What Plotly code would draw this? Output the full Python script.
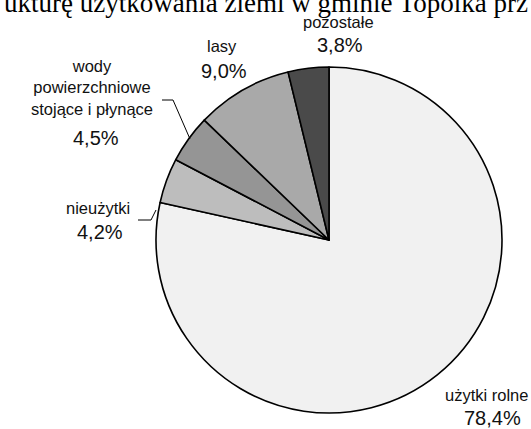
import plotly.graph_objects as go

W, H = 531, 429

categories = ["użytki rolne", "nieużytki", "wody<br>powierzchniowe<br>stojące i płynące", "lasy", "pozostałe"]
values = [78.4, 4.2, 4.5, 9.0, 3.8]
pct_labels = ["78,4%", "4,2%", "4,5%", "9,0%", "3,8%"]
colors = ["#f1f1f1", "#bdbdbd", "#959595", "#a9a9a9", "#4a4a4a"]
title_text = "ukturę użytkowania ziemi w gminie Topólka prz"

# label layout (pixel positions of the text centres)
name_pos = [(486, 395), (98, 208), (92, 87), (222, 46), (338, 22)]
pct_pos = [(492, 418), (100, 232), (96, 138), (224, 71), (340, 45)]

def px(x):
    return x / W

def py(y):
    return (H - y) / H

fig = go.Figure()
fig.add_trace(go.Pie(
    labels=categories,
    values=values,
    sort=False,
    direction="clockwise",
    rotation=0,
    textinfo="none",
    hoverinfo="label+percent",
    marker=dict(colors=colors, line=dict(color="#000000", width=1.6)),
    domain=dict(x=[px(156), px(502)], y=[py(413), py(67)]),
    showlegend=False,
))

annotations = []
for name, p, (nx, ny), (qx, qy) in zip(categories, pct_labels, name_pos, pct_pos):
    annotations.append(dict(text=name, x=px(nx), y=py(ny), xref="paper", yref="paper",
                            showarrow=False, xanchor="center", yanchor="middle",
                            font=dict(family="Liberation Sans, Arial", size=16.5, color="#111")))
    annotations.append(dict(text=p, x=px(qx), y=py(qy), xref="paper", yref="paper",
                            showarrow=False, xanchor="center", yanchor="middle",
                            font=dict(family="Liberation Sans, Arial", size=20, color="#111")))

annotations.append(dict(text=title_text, x=0.5, y=py(20.5), xref="paper", yref="paper",
                        showarrow=False, xanchor="center", yanchor="bottom",
                        font=dict(family="Liberation Serif, Times New Roman", size=27, color="#000")))

def leader(points):
    d = "M " + " L ".join(f"{px(x)},{py(y)}" for x, y in points)
    return dict(type="path", path=d, xref="paper", yref="paper",
                line=dict(color="#000", width=1))

shapes = [
    leader([(162, 100), (173, 100), (190, 139)]),
    leader([(138, 220), (151, 220), (156, 210)]),
]

fig.update_layout(
    width=W, height=H,
    margin=dict(l=0, r=0, t=0, b=0),
    paper_bgcolor="white", plot_bgcolor="white",
    annotations=annotations,
    shapes=shapes,
)

fig.write_html("out.html", config={"displayModeBar": False},
               post_script="document.body.style.margin='0';document.body.style.overflow='hidden';")
